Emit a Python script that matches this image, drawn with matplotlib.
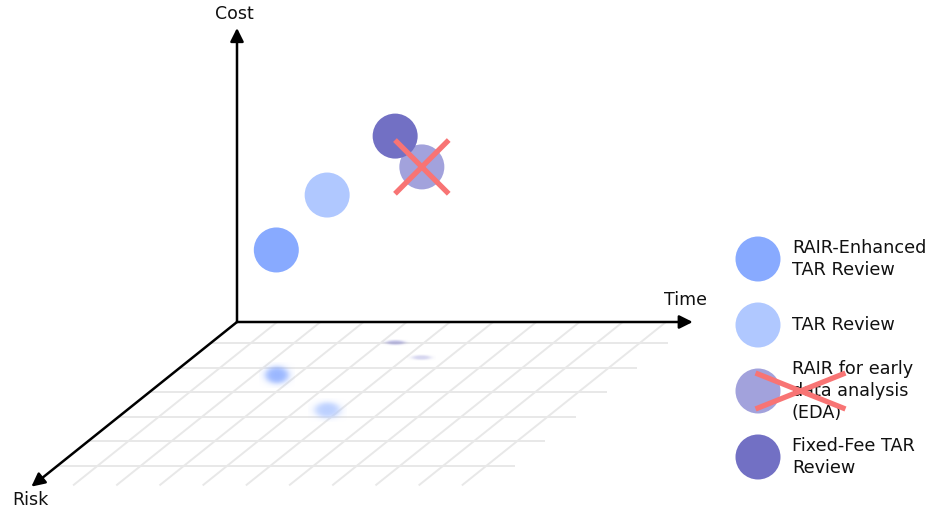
import numpy as np
import matplotlib
matplotlib.use('agg')
import matplotlib.pyplot as plt
from matplotlib.patches import Circle

# review approaches placed in (time, risk, cost) space
methods = ['RAIR-Enhanced\nTAR Review', 'TAR Review',
           'RAIR for early\ndata analysis\n(EDA)', 'Fixed-Fee TAR\nReview']
time = [2.44, 4.63, 5.32, 4.27]
risk = [2.16, 3.59, 1.47, 0.86]
cost = [4.25, 7.31, 6.50, 7.04]
ruled_out = [False, False, True, False]

colors = ['#88aaff', '#b0c8ff', '#a2a2dc', '#7270c4']
shadow_w = [22, 24, 18, 18]
shadow_h = [16, 15, 4, 4]
shadow_alpha = [0.85, 0.85, 0.45, 0.45]
cross_color = '#f87474'

# oblique projection, in pixels
origin = np.array([237.0, 322.0])
u_time = np.array([43.2, 0.0])
u_risk = np.array([-30.6, 24.5])
u_cost = np.array([0.0, -29.4])
len_time, len_risk, len_cost = 10.55, 6.72, 10.0


def proj(t, r, c=0.0):
    return origin + t * u_time + r * u_risk + c * u_cost


W, H = 948, 514
fig = plt.figure(figsize=(W / 100, H / 100), dpi=100)
ax = fig.add_axes([0, 0, 1, 1])
ax.set_xlim(0, W)
ax.set_ylim(H, 0)
ax.axis('off')

# floor grid
grid_kw = dict(color='#e8e8e8', lw=1.4, zorder=1, solid_capstyle='butt')
for k in range(6):
    r = 0.86 + k
    a, b = proj(0, r), proj(10.58, r)
    ax.plot([a[0], b[0]], [a[1], b[1]], **grid_kw)
for k in range(10):
    t = 0.93 + k
    a, b = proj(t, 0), proj(t, len_risk - 0.05)
    ax.plot([a[0], b[0]], [a[1], b[1]], **grid_kw)

# axes with arrow heads
tips = [proj(0, 0, len_cost), proj(len_time, 0), proj(0, len_risk)]
for tip in tips:
    ax.annotate('', xy=tip, xytext=origin,
                arrowprops=dict(arrowstyle='-|>', color='black', lw=1.8,
                                mutation_scale=20, shrinkA=0, shrinkB=0),
                zorder=3)
font = dict(fontsize=12.5, color='#111111')
ax.text(tips[0][0] - 3, tips[0][1] - 14, 'Cost', ha='center', va='center', **font)
ax.text(tips[1][0] - 7, tips[1][1] - 22, 'Time', ha='center', va='center', **font)
ax.text(tips[2][0] - 1, tips[2][1] + 13, 'Risk', ha='center', va='center', **font)

# soft shadows on the floor
yy, xx = np.mgrid[-1.6:1.6:64j, -1.6:1.6:64j]
dist = np.sqrt(xx ** 2 + yy ** 2)
for i in range(len(methods)):
    sx, sy = proj(time[i], risk[i])
    rgb = matplotlib.colors.to_rgb(colors[i])
    img = np.zeros((64, 64, 4))
    img[..., :3] = rgb
    img[..., 3] = shadow_alpha[i] / (1 + np.exp((dist - 1.0) / 0.2))
    w, h = shadow_w[i] * 0.8, shadow_h[i] * 0.8
    ax.imshow(img, extent=[sx - w, sx + w, sy + h, sy - h],
              interpolation='bilinear', zorder=2)

# bubbles
for i in range(len(methods)):
    bx, by = proj(time[i], risk[i], cost[i])
    ax.add_patch(Circle((bx, by), 22.5, color=colors[i], lw=0, zorder=4 + i))
    if ruled_out[i]:
        d = 25
        ax.plot([bx - d, bx + d], [by - d, by + d], color=cross_color, lw=3.8, zorder=10)
        ax.plot([bx - d, bx + d], [by + d, by - d], color=cross_color, lw=3.8, zorder=10)

# legend
lx, tx = 758, 792
for i, name in enumerate(methods):
    ly = 259 + 66 * i
    ax.add_patch(Circle((lx, ly), 22.5, color=colors[i], lw=0, zorder=4))
    ax.text(tx, ly, name, ha='left', va='center', linespacing=1.3,
            fontsize=12.7, color='#111111', zorder=5)
    if ruled_out[i]:
        ax.plot([lx, lx + 85], [ly - 17, ly + 17], color=cross_color, lw=3.8, zorder=10)
        ax.plot([lx, lx + 85], [ly + 17, ly - 17], color=cross_color, lw=3.8, zorder=10)

fig.savefig('out.png', dpi=100)
